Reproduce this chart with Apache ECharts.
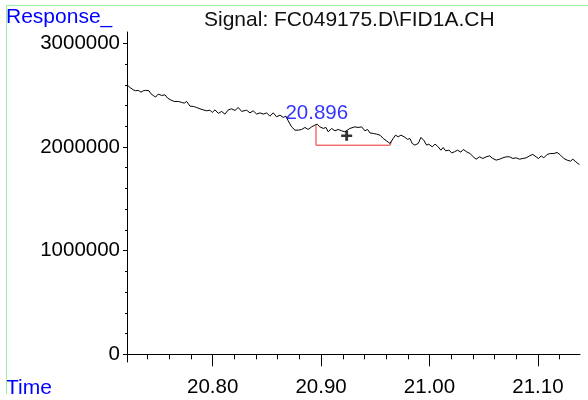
<!DOCTYPE html>
<html>
<head>
<meta charset="utf-8">
<script src="https://cdn.jsdelivr.net/npm/echarts/dist/echarts.min.js"></script>
<style>
html,body{margin:0;padding:0;background:#fff;}
#wrap{position:relative;width:588px;height:400px;}
#chart{position:absolute;left:0;top:0;width:588px;height:400px;}
#frame{position:absolute;left:6px;top:5px;width:582px;height:388px;border-left:1px solid #9cf09c;border-top:1px solid #9cf09c;pointer-events:none;}
</style>
</head>
<body>
<div id="wrap"><div id="chart"></div><div id="frame"></div></div>
<script>
var times = [20.7216,20.7237,20.7268,20.7290,20.7314,20.7339,20.7360,20.7382,20.7391,20.7413,20.7431,20.7452,20.7474,20.7498,20.7530,20.7560,20.7585,20.7616,20.7646,20.7683,20.7714,20.7738,20.7760,20.7791,20.7821,20.7852,20.7883,20.7913,20.7945,20.7975,20.7996,20.8021,20.8052,20.8083,20.8113,20.8144,20.8175,20.8206,20.8236,20.8267,
20.8282,20.8313,20.8344,20.8374,20.8406,20.8436,20.8467,20.8498,20.8528,20.8559,20.8590,20.8621,20.8651,20.8676,20.8697,20.8728,20.8759,20.8789,20.8821,20.8851,20.8881,20.8913,20.8943,20.8964,20.8989,20.9020,20.9045,20.9066,20.9097,20.9128,20.9158,20.9189,20.9220,20.9266,20.9312,20.9342,
20.9374,20.9404,20.9429,20.9450,20.9481,20.9512,20.9543,20.9573,20.9604,20.9635,20.9650,20.9665,20.9687,20.9711,20.9736,20.9767,20.9798,20.9819,20.9840,20.9865,20.9896,20.9921,20.9951,20.9973,20.9994,21.0025,21.0050,21.0074,21.0105,21.0126,21.0148,21.0179,21.0205,21.0229,21.0259,21.0289,21.0311,21.0343,21.0373,21.0404,
21.0430,21.0462,21.0492,21.0522,21.0554,21.0584,21.0615,21.0646,21.0676,21.0707,21.0738,21.0769,21.0799,21.0831,21.0861,21.0891,21.0922,21.0953,21.0983,21.1005,21.1030,21.1054,21.1085,21.1116,21.1147,21.1177,21.1209,21.1239,21.1269,21.1301,21.1322,21.1343,21.1368,21.1383];
var signal = [2594000,2574000,2551000,2542000,2546000,2529000,2542000,2546000,2551000,2542000,2513000,2497000,2481000,2510000,2497000,2503000,2471000,2452000,2439000,2439000,2430000,2423000,2439000,2394000,2391000,2381000,2368000,2358000,2349000,2355000,2333000,2358000,2324000,2343000,2317000,2358000,2368000,2352000,2381000,2343000,
2329000,2355000,2329000,2349000,2317000,2329000,2317000,2329000,2297000,2329000,2291000,2307000,2285000,2297000,2252000,2194000,2162000,2162000,2169000,2188000,2169000,2194000,2211000,2220000,2194000,2179000,2188000,2146000,2179000,2156000,2169000,2156000,2146000,2179000,2194000,2188000,
2194000,2156000,2169000,2136000,2130000,2124000,2114000,2082000,2059000,2034000,2040000,2082000,2114000,2098000,2114000,2098000,2073000,2082000,2034000,2018000,2034000,2092000,2059000,2018000,2027000,2001000,2027000,2008000,1969000,1995000,1963000,1969000,1943000,1953000,1969000,1950000,1976000,1953000,1937000,1905000,
1882000,1905000,1889000,1905000,1914000,1889000,1873000,1882000,1895000,1905000,1905000,1889000,1895000,1882000,1889000,1895000,1914000,1928000,1905000,1889000,1914000,1895000,1928000,1937000,1937000,1947000,1921000,1889000,1873000,1863000,1882000,1863000,1841000,1831000];

var baselineTimes = [20.8953, 20.8953, 20.9636, 20.9649];
var baselineValues = [2210000, 2017000, 2017000, 2051000];

var peakTime = 20.896;
var peakLabelValue = 2326000;
var peakLabelText = '20.896';
var markerTime = 20.9236;
var markerValue = 2107000;

var xMajorTicks = [20.80, 20.90, 21.00, 21.10];
var xMinorTicks = [20.74, 20.76, 20.78, 20.82, 20.84, 20.86, 20.88, 20.92, 20.94, 20.96, 20.98, 21.02, 21.04, 21.06, 21.08, 21.12];
var yMajorTicks = [0, 1000000, 2000000, 3000000];
var yMinorTicks = [200000, 400000, 600000, 800000, 1200000, 1400000, 1600000, 1800000, 2200000, 2400000, 2600000, 2800000];

var xMin = 20.721, xMax = 21.1388;
var yMin = -74300, yMax = 3109000;

var FONT = 'Liberation Sans, Arial, sans-serif';

function zip(a, b) { return a.map(function (v, i) { return [v, b[i]]; }); }

var chart = echarts.init(document.getElementById('chart'), null, {renderer: 'canvas'});
chart.setOption({
  animation: false,
  backgroundColor: '#fff',
  title: [
    {text: 'Response_', left: 6, top: 7, padding: 0, textStyle: {color: '#0000ff', fontSize: 21, lineHeight: 21, fontWeight: 'normal', fontFamily: FONT}},
    {text: 'Signal: FC049175.D\\FID1A.CH', left: 204, top: 10, padding: 0, textStyle: {color: '#111', fontSize: 21, lineHeight: 21, fontWeight: 'normal', fontFamily: FONT}},
    {text: 'Time', left: 6, top: 378, padding: 0, textStyle: {color: '#0000ff', fontSize: 21, lineHeight: 21, fontWeight: 'normal', fontFamily: FONT}}
  ],
  grid: {left: 127, right: 8, top: 32, bottom: 38, containLabel: false},
  xAxis: [
    {type: 'value', min: xMin, max: xMax, position: 'bottom',
     axisLine: {show: true, lineStyle: {color: '#000', width: 1}},
     axisTick: {show: true, length: 12, customValues: xMajorTicks, lineStyle: {color: '#000'}},
     axisLabel: {show: true, customValues: xMajorTicks, margin: 15, color: '#000', fontSize: 20.5, fontFamily: FONT, formatter: function (v) { return v.toFixed(2); }},
     splitLine: {show: false}},
    {type: 'value', min: xMin, max: xMax, position: 'bottom', offset: 0,
     axisLine: {show: false},
     axisTick: {show: true, length: 5, customValues: xMinorTicks, lineStyle: {color: '#000'}},
     axisLabel: {show: false},
     splitLine: {show: false}}
  ],
  yAxis: [
    {type: 'value', min: yMin, max: yMax, position: 'left',
     axisLine: {show: true, lineStyle: {color: '#000', width: 1}},
     axisTick: {show: true, length: 4, customValues: yMajorTicks, lineStyle: {color: '#000'}},
     axisLabel: {show: true, customValues: yMajorTicks, margin: 7, color: '#000', fontSize: 20.5, fontFamily: FONT, formatter: function (v) { return String(Math.round(v)); }},
     splitLine: {show: false}},
    {type: 'value', min: yMin, max: yMax, position: 'left', offset: 0,
     axisLine: {show: false},
     axisTick: {show: true, length: 2, customValues: yMinorTicks, lineStyle: {color: '#000'}},
     axisLabel: {show: false},
     splitLine: {show: false}}
  ],
  series: [
    {type: 'line', xAxisIndex: 0, yAxisIndex: 0, data: zip(times, signal), showSymbol: false, symbol: 'none',
     lineStyle: {color: '#000', width: 1}, silent: true, z: 3},
    {type: 'line', xAxisIndex: 0, yAxisIndex: 0, data: zip(baselineTimes, baselineValues), showSymbol: false, symbol: 'none',
     lineStyle: {color: '#ee2b2b', width: 1}, silent: true, z: 2},
    {type: 'scatter', xAxisIndex: 0, yAxisIndex: 0, data: [[markerTime, markerValue]],
     symbol: 'path://M0,3.2H3.7V0H6.3V3.2H10V5.6H6.3V9H3.7V5.6H0Z', symbolSize: [11, 10], itemStyle: {color: '#000'}, silent: true, z: 5},
    {type: 'scatter', xAxisIndex: 0, yAxisIndex: 0, data: [[peakTime, peakLabelValue]],
     symbolSize: 1, itemStyle: {color: 'rgba(0,0,0,0)'}, silent: true, z: 6,
     label: {show: true, position: 'inside', formatter: peakLabelText, color: '#0000ff', fontSize: 20.5, fontFamily: FONT}}
  ]
});
</script>
</body>
</html>
